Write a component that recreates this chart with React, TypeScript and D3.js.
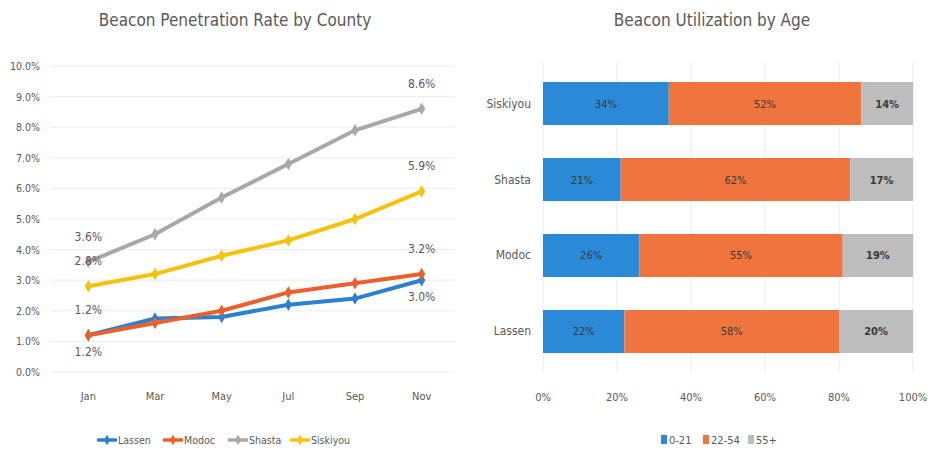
import React from 'react';
import * as d3 from 'd3';

// line chart data
const months = ['Jan', 'Mar', 'May', 'Jul', 'Sep', 'Nov'];
const lassen = [1.2, 1.75, 1.8, 2.2, 2.4, 3.0];
const modoc = [1.2, 1.6, 2.0, 2.6, 2.9, 3.2];
const shasta = [3.6, 4.5, 5.7, 6.8, 7.9, 8.6];
const siskiyou = [2.8, 3.2, 3.8, 4.3, 5.0, 5.9];
const lineTicks = [0, 1, 2, 3, 4, 5, 6, 7, 8, 9, 10];

// bar chart data
const counties = ['Siskiyou', 'Shasta', 'Modoc', 'Lassen'];
const age0to21 = [34, 21, 26, 22];
const age22to54 = [52, 62, 55, 58];
const age55plus = [14, 17, 19, 20];
const ageGroups = ['0-21', '22-54', '55+'];
const barTicks = [0, 20, 40, 60, 80, 100];

const FONT = "'DejaVu Sans Condensed', 'DejaVu Sans', sans-serif";
const TEXT = '#595959';

const lineSeries = [
  { name: 'Lassen', values: lassen, color: '#2b80d2', labelBelow: true },
  { name: 'Modoc', values: modoc, color: '#e8602c', labelBelow: false },
  { name: 'Shasta', values: shasta, color: '#a8a8a8', labelBelow: false },
  { name: 'Siskiyou', values: siskiyou, color: '#f4c20d', labelBelow: false },
];

const barColors = ['#2a8ad8', '#f0743e', '#bdbdbd'];

const txt = { fontFamily: FONT, fontStretch: 'condensed', fill: TEXT } as const;

const LineChart = () => {
  const x = d3.scalePoint<string>().domain(months).range([55, 455]).padding(0.5);
  const y = d3.scaleLinear().domain([0, 10]).range([372, 66]);
  const line = d3
    .line<number>()
    .x((_, i) => x(months[i]) as number)
    .y((d) => y(d));
  const legendX = [97, 163, 228, 290];

  return (
    <g>
      <text x={235} y={26} textAnchor="middle" fontSize={17} style={txt}>
        Beacon Penetration Rate by County
      </text>
      {lineTicks.map((t) => (
        <g key={t}>
          <line x1={50} x2={455} y1={y(t)} y2={y(t)} stroke="#ececec" strokeWidth={1} />
          <text x={40} y={y(t) + 4} textAnchor="end" fontSize={10.5} style={txt}>
            {d3.format('.1f')(t) + '%'}
          </text>
        </g>
      ))}
      {months.map((m) => (
        <text key={m} x={x(m)} y={400} textAnchor="middle" fontSize={11} style={txt}>
          {m}
        </text>
      ))}
      {lineSeries.map((s) => (
        <g key={s.name}>
          <path d={line(s.values) ?? ''} fill="none" stroke={s.color} strokeWidth={4} />
          {s.values.map((v, i) => (
            <path
              key={i}
              d={d3.symbol(d3.symbolDiamond, 45)() ?? ''}
              transform={`translate(${x(months[i])},${y(v)})`}
              fill={s.color}
            />
          ))}
          {[0, s.values.length - 1].map((i) => (
            <text
              key={i}
              x={x(months[i])}
              y={y(s.values[i]) + (s.labelBelow ? 21 : -21)}
              textAnchor="middle"
              fontSize={12}
              style={txt}
            >
              {d3.format('.1f')(s.values[i]) + '%'}
            </text>
          ))}
        </g>
      ))}
      {lineSeries.map((s, i) => (
        <g key={s.name} transform={`translate(${legendX[i]},440)`}>
          <line x1={0} x2={20} y1={0} y2={0} stroke={s.color} strokeWidth={3.5} />
          <path d={d3.symbol(d3.symbolDiamond, 32)() ?? ''} transform="translate(10,0)" fill={s.color} />
          <text x={21} y={4} fontSize={10.5} style={txt}>
            {s.name}
          </text>
        </g>
      ))}
    </g>
  );
};

const BarChart = () => {
  const x = d3.scaleLinear().domain([0, 100]).range([543, 913]);
  const y = d3.scaleBand<string>().domain(counties).range([63, 372]).paddingInner(0.434).paddingOuter(0.25);
  const groups = [age0to21, age22to54, age55plus];
  const stacked = counties.map((c, i) => {
    let acc = 0;
    return groups.map((g, k) => {
      const start = acc;
      acc += g[i];
      return { county: c, k, start, end: acc, value: g[i] };
    });
  });
  const legendX = [661, 703, 748];

  return (
    <g>
      <text x={712} y={26} textAnchor="middle" fontSize={17} style={txt}>
        Beacon Utilization by Age
      </text>
      {barTicks.map((t) => (
        <g key={t}>
          <line x1={x(t)} x2={x(t)} y1={63} y2={372} stroke="#ececec" strokeWidth={1} />
          <text x={x(t)} y={401} textAnchor="middle" fontSize={11} style={txt}>
            {t + '%'}
          </text>
        </g>
      ))}
      {counties.map((c) => (
        <text
          key={c}
          x={531}
          y={(y(c) as number) + y.bandwidth() / 2 + 4}
          textAnchor="end"
          fontSize={12}
          style={txt}
        >
          {c}
        </text>
      ))}
      {stacked.flat().map((d) => (
        <g key={d.county + d.k}>
          <rect
            x={x(d.start)}
            y={y(d.county)}
            width={x(d.end) - x(d.start)}
            height={y.bandwidth()}
            fill={barColors[d.k]}
          />
          <text
            x={(x(d.start) + x(d.end)) / 2}
            y={(y(d.county) as number) + y.bandwidth() / 2 + 4}
            textAnchor="middle"
            fontSize={11}
            fontWeight={d.k === 2 ? 'bold' : 'normal'}
            style={{ ...txt, fill: '#3a3a3a' }}
          >
            {d.value + '%'}
          </text>
        </g>
      ))}
      {ageGroups.map((g, i) => (
        <g key={g} transform={`translate(${legendX[i]},440)`}>
          <rect x={0} y={-5} width={6} height={9} fill={barColors[i]} />
          <text x={8} y={4} fontSize={11} style={txt}>
            {g}
          </text>
        </g>
      ))}
    </g>
  );
};

const App = () => (
  <svg width={932} height={466} style={{ position: 'absolute', left: 0, top: 0, background: '#fff' }}>
    <LineChart />
    <BarChart />
  </svg>
);

export default App;
